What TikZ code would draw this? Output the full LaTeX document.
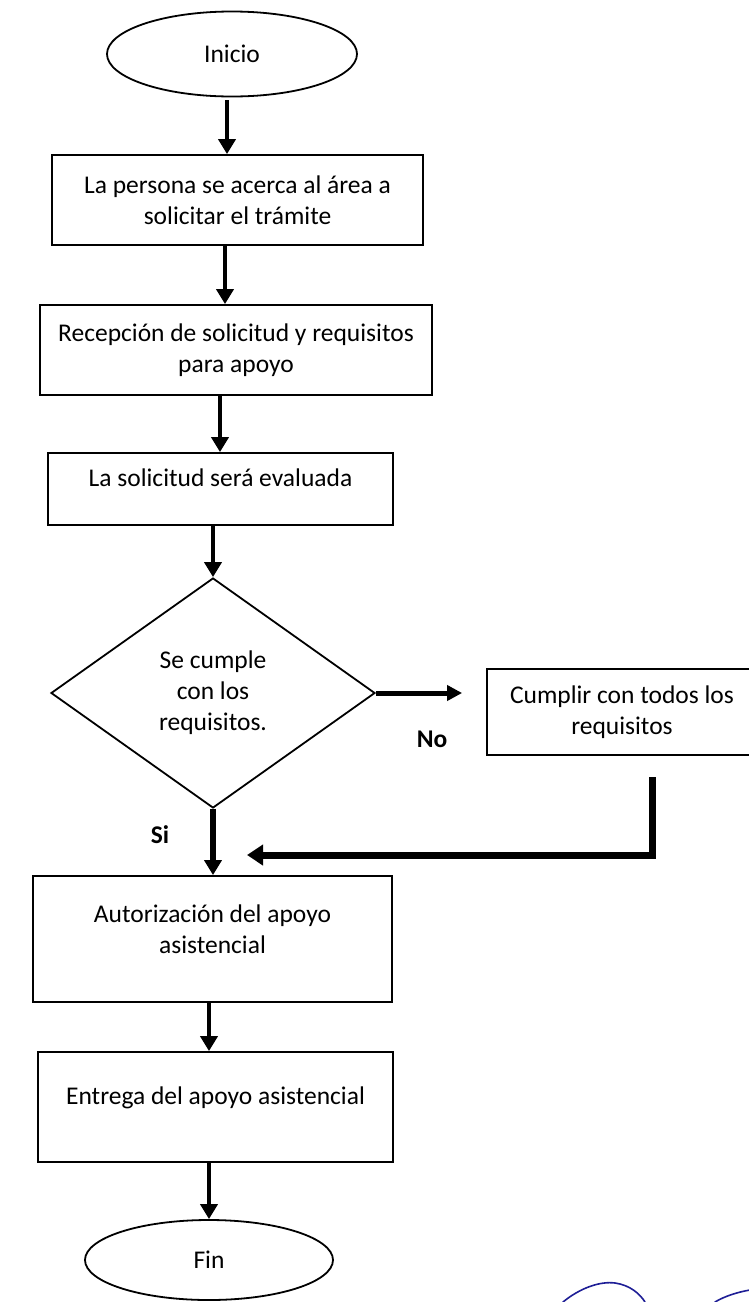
\documentclass[tikz,border=0pt]{standalone}
\usepackage{fontspec}
\setmainfont{Carlito}
\usetikzlibrary{shapes.geometric,arrows.meta}
\tikzset{
  every node/.style={font=\fontsize{25.5pt}{31pt}\selectfont, text=black},
  boxnode/.style={draw=black, line width=1.8pt, rectangle, inner sep=0pt, align=flush center},
  termnode/.style={draw=black, line width=1.8pt, ellipse, inner sep=0pt},
  decnode/.style={draw=black, line width=1.8pt, diamond, inner sep=0pt, align=flush center},
  flow/.style={line width=4.5pt, -{Triangle[length=15pt,width=17pt]}},
  noarrow/.style={line width=5pt, -{Triangle[length=15pt,width=15pt]}},
  retarrow/.style={line width=7pt, -{Triangle[length=16pt,width=20pt]}},
  lbl/.style={font=\fontsize{25.5pt}{31pt}\selectfont\bfseries},
  sig/.style={draw={rgb,255:red,30;green,30;blue,150}, line width=1.6pt, line cap=round}
}
\begin{document}
\begin{tikzpicture}[x=1pt,y=1pt]
\useasboundingbox (0,0) rectangle (748,-1302);
\fill[white] (0,0) rectangle (748,-1302);

\node[termnode, minimum width=250pt, minimum height=85pt] (inicio) at (232,-54) {Inicio};
\node[boxnode, minimum width=371pt, minimum height=90pt, text width=365pt] (b1) at (237.5,-200)
  {La persona se acerca al área a\\solicitar el trámite};
\node[boxnode, minimum width=392pt, minimum height=90pt, text width=386pt] (b2) at (236,-350)
  {Recepción de solicitud y requisitos\\para apoyo};
\node[boxnode, minimum width=345pt, minimum height=72pt, text width=340pt] (b3) at (220.5,-489)
  {La solicitud será evaluada\par\vspace{22pt}};
\node[decnode, minimum width=324pt, minimum height=230pt] (dec) at (213,-693)
  {Se cumple\\con los\\requisitos.};
\node[boxnode, minimum width=270pt, minimum height=86pt, text width=264pt] (cump) at (622,-712)
  {Cumplir con todos los\\requisitos};
\node[boxnode, minimum width=359pt, minimum height=126pt, text width=350pt] (auth) at (212.5,-939)
  {Autorización del apoyo\\asistencial\par\vspace{20pt}};
\node[boxnode, minimum width=355pt, minimum height=110pt, text width=350pt] (ent) at (215.5,-1107)
  {Entrega del apoyo asistencial\par\vspace{18pt}};
\node[termnode, minimum width=248pt, minimum height=80pt] (fin) at (209,-1260) {Fin};

\node[lbl] (si) at (160,-835) {Si};
\node[lbl] (no) at (432,-739) {No};

\draw[flow] ([xshift=-5pt,yshift=-3pt]inicio.south) -- ([xshift=-5pt]inicio.south |- b1.north);
\draw[flow] ([xshift=-12.5pt]b1.south) -- ([xshift=-12.5pt]b1.south |- b2.north);
\draw[flow] ([xshift=-16pt]b2.south) -- ([xshift=-16pt]b2.south |- b3.north);
\draw[flow] (b3.south -| dec.north) -- (dec.north);
\draw[noarrow] (dec.east) -- ([xshift=-24pt]dec.east -| cump.west);
\draw[flow, line width=5.5pt] (dec.south) -- (dec.south |- auth.north);
\coordinate (r0) at (652,-777);
\coordinate (r1) at (247,-855);
\draw[retarrow] (r0) |- (r1);
\draw[flow] ([xshift=-3.5pt]auth.south) -- ([xshift=-3.5pt]auth.south |- ent.north);
\draw[flow] (ent.south -| fin.north) -- (fin.north);

\draw[sig] (563,-1302) .. controls (580,-1288) and (600,-1281) .. (615,-1283)
  .. controls (630,-1285) and (640,-1294) .. (645,-1302);
\draw[sig] (715,-1302) .. controls (725,-1296) and (738,-1292) .. (750,-1290);
\end{tikzpicture}
\end{document}
